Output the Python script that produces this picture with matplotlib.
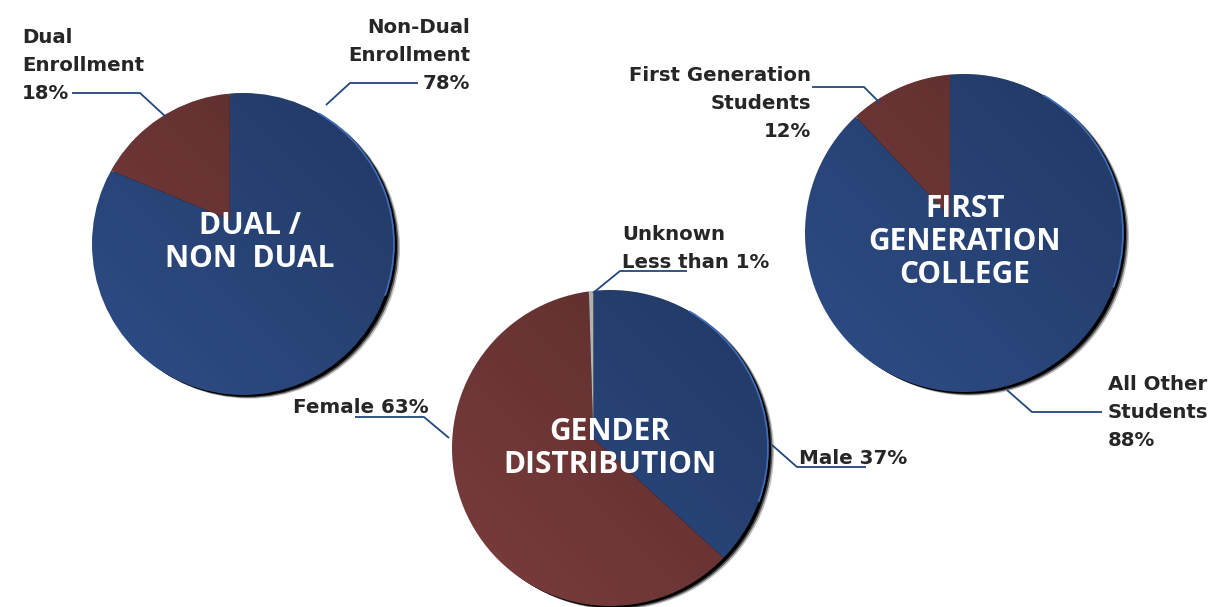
# Three tilted pie charts (enrollment, gender, first generation) with leader-line labels.
import matplotlib.pyplot as plt
import numpy as np
from matplotlib.patches import Ellipse, Arc, Circle

W, H = 1217, 607

dual_names = ["Non-Dual Enrollment", "Dual Enrollment"]
dual_values = [78, 18]

gender_names = ["Male", "Female", "Unknown"]
gender_values = [37, 63, 0.5]

firstgen_names = ["All Other Students", "First Generation Students"]
firstgen_values = [88, 12]

BLUE = "#2c4a82"
RED = "#763a3a"
GRAY = "#d0d0d0"
LABEL_COLOR = "#262626"
LINE_COLOR = "#23477d"


def shading(n=300):
    # black overlay, transparent at lower left, darker towards upper right
    y, x = np.mgrid[-1:1:n * 1j, -1:1:n * 1j]
    t = np.clip(0.5 + 0.35 * x + 0.35 * y, 0, 1)
    img = np.zeros((n, n, 4))
    img[..., 3] = 0.2 * t
    return img


def draw_pie(fig, cx, cy, r, values, colors, apex):
    # apex: where the slices meet, offset from the disc centre (tilted look)
    ax = fig.add_axes([(cx - r) / W, 1 - (cy + r) / H, 2 * r / W, 2 * r / H])

    for k, alpha in enumerate([0.25, 0.55, 1.0]):
        off = 6 - 1.5 * k
        ax.add_patch(Ellipse((off / r, -off * 0.6 / r), 2, 2, color="black",
                             alpha=alpha, lw=0, zorder=0, clip_on=False))

    disc = Circle((0, 0), 1, facecolor="none", edgecolor="none")
    ax.add_patch(disc)
    wedges, _ = ax.pie(values, colors=colors, startangle=90, counterclock=False,
                       radius=1.35, center=apex, wedgeprops=dict(linewidth=0))
    for wedge in wedges:
        wedge.set_zorder(1)
        wedge.set_clip_on(True)
        wedge.set_clip_path(disc)

    img = ax.imshow(shading(), extent=(-1, 1, -1, 1), origin="lower", zorder=2,
                    interpolation="bilinear")
    img.set_clip_path(disc)

    ax.add_patch(Arc((0, 0), 2, 2, theta1=-20, theta2=60, color="#3f6cb8",
                     lw=1.3, zorder=3, clip_on=False))
    ax.set_aspect("auto")
    ax.set_xlim(-1, 1)
    ax.set_ylim(-1, 1)
    ax.axis("off")
    return ax


fig = plt.figure(figsize=(W / 100, H / 100), dpi=100)

draw_pie(fig, 243, 244, 151, dual_values, [BLUE, RED], (-0.087, 0.16))
draw_pie(fig, 610, 448, 158, gender_values, [BLUE, RED, GRAY], (-0.105, 0.06))
draw_pie(fig, 964, 233, 159, firstgen_values, [BLUE, RED], (-0.088, 0.10))

ax = fig.add_axes([0, 0, 1, 1])
ax.set_xlim(0, W)
ax.set_ylim(H, 0)
ax.axis("off")

label_kw = dict(family="DejaVu Sans", weight="bold", color=LABEL_COLOR,
                va="baseline", linespacing=1.6)
title_kw = dict(family="Open Sans", weight="bold", color="white", fontsize=21.5,
                ha="center", va="baseline", multialignment="center", linespacing=1.12)

# pie titles (y = baseline of the last line)
ax.text(250, 267, "DUAL /\nNON  DUAL", **title_kw)
ax.text(610, 473, "GENDER\nDISTRIBUTION", **title_kw)
ax.text(965, 283, "FIRST\nGENERATION\nCOLLEGE", **title_kw)

# slice labels (y = baseline of the last line)
ax.text(22, 99, "Dual\nEnrollment\n18%", ha="left", fontsize=14.2, **label_kw)
ax.text(470, 89, "Non-Dual\nEnrollment\n78%", ha="right", multialignment="right",
        fontsize=14.2, **label_kw)
ax.text(622, 268, "Unknown\nLess than 1%", ha="left", fontsize=14.2, **label_kw)
ax.text(429, 413, "Female 63%", ha="right", fontsize=14.3, **label_kw)
ax.text(799, 464, "Male 37%", ha="left", fontsize=14.3, **label_kw)
ax.text(811, 137, "First Generation\nStudents\n12%", ha="right", multialignment="right",
        fontsize=14.2, **label_kw)
ax.text(1108, 446, "All Other\nStudents\n88%", ha="left", fontsize=14.2, **label_kw)

# leader lines
leaders = [
    [(72, 93), (140, 93), (166, 117)],
    [(418, 83), (350, 83), (326, 105)],
    [(687, 271), (620, 271), (593, 293)],
    [(355, 417), (424, 417), (449, 438)],
    [(772, 445), (797, 467), (866, 467)],
    [(812, 87), (864, 87), (880, 103)],
    [(1007, 390), (1032, 412), (1102, 412)],
]
for pts in leaders:
    xs, ys = zip(*pts)
    ax.plot(xs, ys, color=LINE_COLOR, lw=1.3, solid_capstyle="butt")

fig.savefig("out.png", dpi=100)
